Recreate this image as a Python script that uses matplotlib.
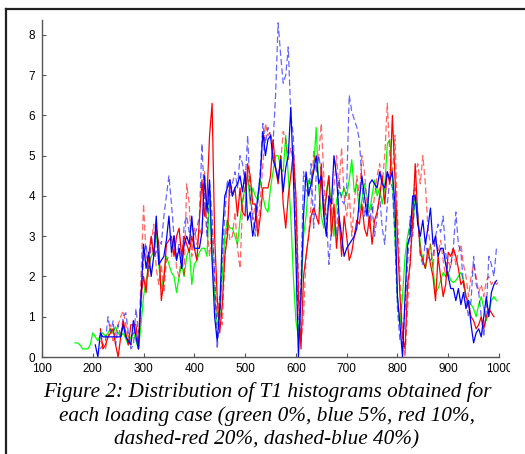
import numpy as np
import matplotlib
matplotlib.use("Agg")
import matplotlib.pyplot as plt
from matplotlib.lines import Line2D
from matplotlib.transforms import Bbox, TransformedBbox

# ---- data (x step of 5) ----
green_start = 165
green_y = [0.35, 0.35, 0.3, 0.2, 0.2, 0.2, 0.3, 0.6, 0.5, 0.4, 0.55, 0.6, 0.5, 0.6, 0.7, 0.6, 0.75, 0.6, 0.5, 0.6,
           0.45, 0.3, 0.5, 0.6, 0.4, 0.2, 0.8, 1.5, 1.9, 2.2, 2.5, 2.6, 3.1, 2.3, 1.7, 2.0, 2.5, 2.3, 2.1, 2.0,
           1.6, 2.0, 2.3, 2.0, 2.5, 2.7, 1.8, 2.3, 2.4, 2.6, 2.7, 2.7, 2.5, 4.1, 2.5, 1.5, 0.8, 1.0, 2.0, 3.0,
           3.4, 3.2, 3.2, 3.0, 2.8, 3.4, 3.9, 4.2, 4.5, 3.8, 4.2, 4.0, 3.9, 4.4, 4.0, 3.7, 3.6, 4.2, 4.6, 5.0,
           5.0, 4.7, 4.6, 5.5, 4.5, 3.5, 2.0, 0.9, 0.5, 1.5, 3.0, 3.5, 4.4, 4.3, 4.7, 5.7, 4.2, 3.5, 3.2, 4.1,
           4.5, 3.6, 3.0, 3.9, 4.1, 4.0, 4.2, 4.0, 4.4, 4.9, 4.1, 4.3, 3.6, 3.9, 4.3, 4.0, 3.6, 4.0, 4.4, 4.0,
           4.2, 3.8, 4.2, 5.3, 5.4, 4.5, 3.0, 1.5, 0.8, 1.5, 2.5, 3.0, 3.3, 3.2, 4.0, 3.5, 2.8, 2.4, 2.2, 2.5,
           2.8, 2.2, 1.6, 1.7, 1.9, 2.1, 2.0, 2.1, 1.9, 1.85, 1.9, 2.0, 2.1, 1.9, 1.5, 1.4, 1.3, 1.2, 1.0, 1.3,
           1.5, 1.2, 0.9, 1.1, 1.4, 1.5, 1.4]

blue_start = 205
blue_y = [0.3, 0.0, 0.6, 0.5, 0.5, 0.5, 0.5, 0.5, 0.5, 0.5, 0.5, 0.8, 0.5, 0.4, 0.3, 0.9, 0.5, 0.2, 1.5, 2.8,
          2.2, 2.6, 2.0, 2.5, 3.5, 2.3, 2.4, 2.5, 2.9, 3.5, 2.6, 3.0, 2.4, 2.7, 2.2, 2.8, 3.0, 2.8, 3.5, 2.7,
          2.7, 2.7, 3.1, 4.5, 3.6, 4.4, 2.4, 1.0, 0.4, 1.2, 3.0, 4.0, 4.2, 4.4, 4.0, 4.2, 4.3, 4.5, 4.1, 4.6,
          3.4, 3.6, 3.0, 3.4, 4.0, 4.5, 5.6, 5.0, 5.4, 5.5, 4.9, 4.7, 4.4, 4.9, 4.1, 4.7, 5.0, 6.2, 4.5, 2.5,
          0.0, 1.5, 3.5, 4.6, 4.0, 4.3, 4.6, 5.0, 4.3, 4.5, 3.5, 3.0, 4.0, 3.8, 5.0, 4.5, 3.5, 3.0, 2.5, 2.7,
          2.8, 2.9, 3.0, 3.2, 3.9, 4.5, 4.0, 3.5, 4.3, 4.4, 4.3, 4.2, 4.6, 4.3, 4.2, 4.6, 4.4, 4.6, 3.8, 1.5,
          0.8, 0.0, 1.5, 2.8, 3.0, 4.0, 4.0, 3.3, 3.0, 3.4, 2.8, 3.2, 3.7, 2.8, 3.0, 2.5, 2.7, 2.7, 2.3, 2.0,
          1.7, 1.7, 1.4, 1.7, 1.3, 1.6, 1.2, 1.4, 0.8, 0.35, 0.6, 0.7, 0.5, 1.0, 1.5, 1.0, 1.6, 1.8, 1.9]

red_start = 215
red_y = [0.7, 0.2, 0.3, 0.5, 0.6, 0.7, 0.3, 0.0, 0.5, 0.9, 0.6, 0.3, 0.8, 0.8, 0.8, 0.2, 1.5, 2.0, 1.6, 2.5,
         3.0, 2.5, 3.2, 2.8, 1.4, 1.9, 2.8, 2.9, 3.0, 2.5, 3.0, 3.2, 2.5, 3.0, 2.8, 2.6, 3.0, 2.7, 2.4, 3.4,
         4.4, 3.5, 4.0, 5.5, 6.3, 3.0, 1.5, 0.6, 1.3, 2.5, 3.0, 4.4, 4.0, 4.2, 3.5, 4.2, 3.6, 3.5, 4.8, 4.5,
         3.8, 3.8, 3.0, 3.5, 4.2, 4.2, 4.2, 4.5, 5.4, 4.7, 4.3, 5.0, 3.8, 3.2, 4.0, 4.5, 5.1, 4.0, 1.5, 0.2,
         2.0, 2.5, 3.0, 3.5, 3.7, 3.5, 3.3, 4.8, 3.5, 4.0, 4.5, 3.0, 3.8, 2.7, 3.5, 2.5, 3.5, 3.0, 2.4, 2.6,
         3.0, 3.4, 3.3, 3.8, 3.2, 3.0, 3.5, 2.8, 3.4, 3.6, 4.0, 4.5, 3.8, 4.6, 4.3, 6.0, 4.5, 3.0, 1.5, 0.5,
         0.2, 1.8, 2.3, 3.4, 4.8, 3.5, 2.6, 2.4, 2.2, 2.7, 2.3, 2.0, 1.4, 2.5, 2.0, 1.5, 1.8, 2.6, 2.5, 2.7,
         2.5, 2.2, 1.8, 1.9, 1.5, 1.3, 1.0, 0.9, 0.7, 0.8, 1.0, 0.7, 1.0, 1.2, 1.1, 1.0]

red_dash_start = 215
red_dash_y = [0.4, 0.3, 0.2, 0.5, 0.8, 0.4, 0.6, 0.8, 1.0, 1.15, 0.8, 0.5, 0.3, 0.9, 0.5, 0.3, 2.0, 3.8, 2.5, 2.0,
              2.8, 3.3, 2.2, 1.8, 2.3, 1.6, 2.4, 2.5, 2.5, 3.0, 2.2, 2.0, 2.6, 2.0, 4.3, 3.8, 2.5, 3.2, 2.8, 3.2,
              3.0, 4.6, 3.2, 2.5, 3.2, 2.0, 1.0, 1.5, 0.8, 2.5, 3.4, 2.9, 3.0, 3.6, 2.7, 2.2, 3.8, 4.2, 4.6, 4.0,
              3.4, 3.8, 3.2, 3.9, 4.8, 5.8, 5.5, 5.6, 5.0, 4.7, 4.5, 4.8, 5.6, 5.4, 4.9, 5.2, 4.8, 4.0, 2.0, 0.4,
              1.0, 2.5, 3.0, 3.8, 5.1, 4.6, 5.0, 5.8, 4.5, 3.2, 4.0, 3.5, 4.2, 5.0, 4.2, 5.2, 4.0, 3.5, 4.1, 3.0,
              3.8, 4.5, 4.0, 5.0, 4.6, 3.8, 3.2, 3.5, 4.0, 4.5, 4.8, 4.3, 5.0, 6.3, 5.0, 4.5, 5.5, 3.5, 2.0, 0.5,
              0.0, 1.2, 2.5, 3.8, 4.5, 4.8, 4.3, 5.0, 4.3, 3.2, 2.8, 2.2, 3.0, 2.6, 2.9, 2.4, 2.0, 2.4, 2.2, 2.7,
              2.3, 2.6, 2.8, 2.3, 2.0, 1.5, 2.0, 2.3, 2.0, 1.6, 1.8, 1.5, 1.9, 2.0, 1.8, 1.9, 1.8, 1.9]

blue_dash_start = 215
blue_dash_y = [0.2, 0.3, 0.4, 1.0, 0.6, 0.9, 0.3, 0.8, 0.5, 1.0, 1.1, 0.6, 0.2, 0.3, 1.2, 0.6, 1.2, 2.5, 2.8, 2.2,
               3.0, 2.5, 2.6, 2.9, 2.8, 3.5, 4.0, 4.5, 3.8, 3.0, 2.5, 2.8, 2.2, 3.3, 3.5, 3.1, 3.3, 3.0, 3.2, 3.5,
               5.3, 3.9, 3.0, 4.3, 3.5, 2.0, 0.2, 1.0, 2.5, 3.5, 4.4, 4.0, 4.3, 4.6, 4.2, 5.0, 4.8, 4.3, 5.5, 4.0,
               3.5, 3.0, 3.8, 4.7, 5.8, 5.3, 5.7, 5.5, 5.3, 6.5, 8.3, 7.5, 6.8, 7.0, 7.7, 6.0, 5.5, 3.0, 0.5, 1.8,
               4.6, 4.2, 4.0, 4.8, 3.2, 4.5, 5.0, 4.6, 3.8, 3.5, 2.3, 3.2, 3.6, 3.0, 4.4, 3.9, 3.8, 4.2, 6.5, 6.1,
               5.9, 5.7, 5.4, 4.4, 3.5, 3.8, 3.3, 3.8, 3.0, 3.5, 4.0, 3.2, 2.8, 3.8, 4.4, 4.2, 3.0, 1.2, 0.4, 0.3,
               1.2, 2.3, 3.5, 3.0, 4.2, 3.6, 2.5, 2.3, 2.9, 2.5, 2.4, 2.5, 3.0, 3.3, 3.1, 3.5, 2.6, 2.0, 2.3, 2.7,
               3.6, 2.8, 2.6, 1.8, 1.4, 1.0, 1.4, 2.5, 1.8, 1.6, 1.0, 0.5, 1.2, 2.5, 2.3, 2.0, 2.7]

x_ticks = [100, 200, 300, 400, 500, 600, 700, 800, 900, 1000]
y_ticks = [0, 1, 2, 3, 4, 5, 6, 7, 8]
caption = ["Figure 2: Distribution of T1 histograms obtained for",
           "each loading case (green 0%, blue 5%, red 10%,",
           "dashed-red 20%, dashed-blue 40%)"]

STEP = 5


def xs(start, ys):
    return start + STEP * np.arange(len(ys))


W, H = 525, 454
fig = plt.figure(figsize=(W / 100, H / 100), dpi=100)
ax = fig.add_axes([42 / W, 1 - 357 / H, (499 - 42) / W, (357 - 20) / H])

lw = 0.9
ax.plot(xs(green_start, green_y), green_y, color="#00ff00", lw=lw)
ax.plot(xs(red_dash_start, red_dash_y), red_dash_y, color="#ff0000", lw=lw, ls=(0, (5, 2.5)), alpha=0.6)
ax.plot(xs(blue_dash_start, blue_dash_y), blue_dash_y, color="#0000ff", lw=lw, ls=(0, (5, 2.5)), alpha=0.6)
ax.plot(xs(red_start, red_y), red_y, color="#ff0000", lw=lw)
ax.plot(xs(blue_start, blue_y), blue_y, color="#0000ff", lw=lw)

ax.set_xlim(100, 1000)
ax.set_ylim(0, 8.37)
ax.set_xticks(x_ticks)
ax.set_yticks(y_ticks)
ax.set_xticklabels([str(v) for v in x_ticks], fontsize=8.5, family="Liberation Sans")
ax.set_yticklabels([str(v) for v in y_ticks], fontsize=8.5, family="Liberation Sans")
for s in ["top", "right"]:
    ax.spines[s].set_visible(False)
for s in ["left", "bottom"]:
    ax.spines[s].set_color("#555555")
    ax.spines[s].set_linewidth(1.0)
ax.tick_params(direction="in", length=3, width=0.8, color="#555555")
ax.tick_params(axis="x", pad=4.5)
ax.tick_params(axis="y", pad=5)

clip = TransformedBbox(Bbox([[0, 0], [510 / W, 1]]), fig.transFigure)
for lab in ax.get_xticklabels():
    lab.set_clip_box(clip)
    lab.set_clip_on(True)

ys = [1 - 392 / H, 1 - 416 / H, 1 - 440 / H]
for t, yy in zip(caption, ys):
    fig.text(267 / W, yy, t, ha="center", va="center", fontsize=15.3,
             family="Liberation Serif", style="italic")

# outer frame
fig.add_artist(Line2D([6 / W, 6 / W], [0, 1 - 9 / H], transform=fig.transFigure, color="#222222", lw=1.6))
fig.add_artist(Line2D([6 / W, 1], [1 - 9 / H, 1 - 9 / H], transform=fig.transFigure, color="#222222", lw=1.6))

fig.savefig("out.png", dpi=100)
